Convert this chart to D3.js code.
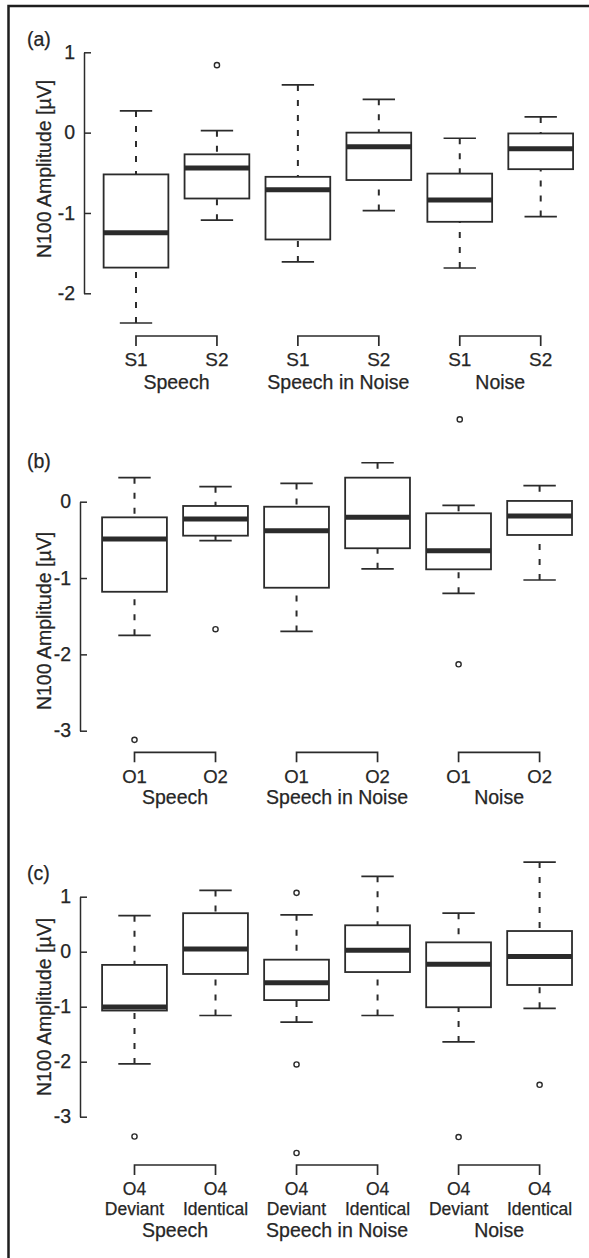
<!DOCTYPE html>
<html>
<head>
<meta charset="utf-8">
<script src="https://cdn.jsdelivr.net/npm/d3@7/dist/d3.min.js"></script>
<style>
  html, body { margin: 0; padding: 0; background: #fff; }
  svg { display: block; }
  text { font-family: "Liberation Sans", Arial, Helvetica, sans-serif; fill: #262626; stroke: #262626; stroke-width: 0.25px; }
</style>
</head>
<body>
<svg id="chart" width="589" height="1258"></svg>
<script>
// ---------------- data ----------------
const groups = ["Speech", "Speech in Noise", "Noise"];
const condA = [["S1"], ["S2"]];
const condB = [["O1"], ["O2"]];
const condC = [["O4", "Deviant"], ["O4", "Identical"]];
const yLabel = "N100 Amplitude [\u00b5V]";
const ticksA = [1, 0, -1, -2];
const ticksB = [0, -1, -2, -3];
const ticksC = [1, 0, -1, -2, -3];

// panel (a): S1/S2 per group
const aLow  = [-2.37, -1.09, -1.61, -0.97, -1.685, -1.045];
const aQ1   = [-1.68, -0.82, -1.33, -0.59, -1.11, -0.455];
const aMed  = [-1.245, -0.44, -0.71, -0.175, -0.84, -0.20];
const aQ3   = [-0.52, -0.27, -0.55, 0.0, -0.51, -0.01];
const aHigh = [0.27, 0.025, 0.594, 0.415, -0.07, 0.195];
const aOut  = [[], [0.84], [], [], [-3.57], []];

// panel (b): O1/O2 per group
const bLow  = [-1.75, -0.51, -1.70, -0.88, -1.20, -1.026];
const bQ1   = [-1.18, -0.445, -1.127, -0.61, -0.886, -0.436];
const bMed  = [-0.49, -0.227, -0.38, -0.205, -0.642, -0.187];
const bQ3   = [-0.205, -0.056, -0.066, 0.315, -0.152, 0.01];
const bHigh = [0.315, 0.197, 0.24, 0.51, -0.047, 0.21];
const bOut  = [[-3.12], [-1.67], [], [], [-2.13], []];

// panel (c): O4 Deviant / O4 Identical per group
const cLow  = [-2.04, -1.16, -1.28, -1.16, -1.64, -1.03];
const cQ1   = [-1.07, -0.405, -0.88, -0.37, -1.01, -0.605];
const cMed  = [-1.005, 0.05, -0.565, 0.025, -0.23, -0.085];
const cQ3   = [-0.24, 0.70, -0.145, 0.48, 0.17, 0.376];
const cHigh = [0.655, 1.115, 0.67, 1.37, 0.70, 1.63];
const cOut  = [[-3.36], [], [1.07, -2.05, -3.66], [], [-3.37], [-2.42]];

// ---------------- layout ----------------
const panels = [
  { tag: "(a)", low: aLow, q1: aQ1, med: aMed, q3: aQ3, high: aHigh, out: aOut, cond: condA, ticks: ticksA,
    axisX: 84, xr: [136, 540.7], yd: [-2, 1], yr: [293.3, 52.3], condSize: 19,
    tagY: 46, ylabY: 169, bracketY: 336, condY: [366], groupY: 388.5 },
  { tag: "(b)", low: bLow, q1: bQ1, med: bMed, q3: bQ3, high: bHigh, out: bOut, cond: condB, ticks: ticksB,
    axisX: 80, xr: [134.5, 539.6], yd: [-3, 0], yr: [730.7, 501.7], condSize: 18.5,
    tagY: 468, ylabY: 621, bracketY: 752.3, condY: [783], groupY: 804 },
  { tag: "(c)", low: cLow, q1: cQ1, med: cMed, q3: cQ3, high: cHigh, out: cOut, cond: condC, ticks: ticksC,
    axisX: 80, xr: [134.5, 539.6], yd: [-3, 1], yr: [1116.7, 896.7], condSize: 17.5,
    tagY: 880, ylabY: 1007, bracketY: 1165, condY: [1195, 1215], groupY: 1237 }
];

const ink = "#2b2b2b";
const svg = d3.select("#chart");

// outer frame (cropped at right/bottom)
svg.append("rect").attr("x", 8.5).attr("y", 6).attr("width", 640).attr("height", 1300)
  .attr("fill", "none").attr("stroke", "#1e1e1e").attr("stroke-width", 2.5);

panels.forEach(p => {
  const g = svg.append("g");
  const x = d3.scaleLinear().domain([0, 5]).range(p.xr);
  const y = d3.scaleLinear().domain(p.yd).range(p.yr);
  const step = x(1) - x(0);
  const bw = step * 0.8;
  const cw = bw * 0.5;

  // y axis (ticks pointing inward)
  const ax = g.append("g").attr("transform", `translate(${p.axisX},0)`)
    .call(d3.axisLeft(y).tickValues(p.ticks).tickSizeInner(-7).tickSizeOuter(0).tickPadding(9)
      .tickFormat(d3.format("d")));
  ax.select(".domain").attr("stroke", ink).attr("stroke-width", 1.5);
  ax.selectAll(".tick line").attr("stroke", ink).attr("stroke-width", 1.5);
  ax.selectAll(".tick text").attr("font-size", 19.5).attr("fill", "#262626")
    .attr("font-family", "Liberation Sans, Arial, sans-serif")
    .text(d => d < 0 ? "-" + Math.abs(d) : d);

  // y label
  g.append("text").attr("transform", `translate(51,${p.ylabY}) rotate(-90)`)
    .attr("text-anchor", "middle").attr("font-size", 19.5).text(yLabel);

  // panel tag
  g.append("text").attr("x", 27).attr("y", p.tagY).attr("font-size", 19.5).text(p.tag);

  const idx = d3.range(6);
  // whiskers (dashed), from whisker end to box edge
  g.selectAll(".wh").data(idx).join("line")
    .attr("x1", i => x(i)).attr("x2", i => x(i))
    .attr("y1", i => y(p.high[i])).attr("y2", i => y(p.q3[i]))
    .attr("stroke", ink).attr("stroke-width", 2).attr("stroke-dasharray", "6,9");
  g.selectAll(".wl").data(idx).join("line")
    .attr("x1", i => x(i)).attr("x2", i => x(i))
    .attr("y1", i => y(p.low[i])).attr("y2", i => y(p.q1[i]))
    .attr("stroke", ink).attr("stroke-width", 2).attr("stroke-dasharray", "6,9");
  // caps
  [p.high, p.low].forEach(arr => {
    g.selectAll(null).data(idx).join("line")
      .attr("x1", i => x(i) - cw / 2).attr("x2", i => x(i) + cw / 2)
      .attr("y1", i => y(arr[i])).attr("y2", i => y(arr[i]))
      .attr("stroke", ink).attr("stroke-width", 1.7);
  });
  // boxes
  g.selectAll(".box").data(idx).join("rect")
    .attr("x", i => x(i) - bw / 2).attr("width", bw)
    .attr("y", i => y(p.q3[i])).attr("height", i => y(p.q1[i]) - y(p.q3[i]))
    .attr("fill", "#fff").attr("stroke", ink).attr("stroke-width", 1.8);
  // medians
  g.selectAll(".med").data(idx).join("line")
    .attr("x1", i => x(i) - bw / 2).attr("x2", i => x(i) + bw / 2)
    .attr("y1", i => y(p.med[i])).attr("y2", i => y(p.med[i]))
    .attr("stroke", ink).attr("stroke-width", 5);
  // outliers
  const outs = idx.flatMap(i => p.out[i].map(v => ({ i, v })));
  g.selectAll(".out").data(outs).join("circle")
    .attr("cx", d => x(d.i)).attr("cy", d => y(d.v)).attr("r", 2.6)
    .attr("fill", "none").attr("stroke", ink).attr("stroke-width", 1.4);

  // group brackets and labels
  groups.forEach((gn, k) => {
    const xa = x(2 * k), xb = x(2 * k + 1);
    g.append("path")
      .attr("d", `M${xa},${p.bracketY + 10}V${p.bracketY}H${xb}V${p.bracketY + 10}`)
      .attr("fill", "none").attr("stroke", ink).attr("stroke-width", 1.7);
    [xa, xb].forEach((xx, j) => {
      p.cond[j].forEach((line, r) => {
        g.append("text").attr("x", xx).attr("y", p.condY[r]).attr("text-anchor", "middle")
          .attr("font-size", p.condSize).text(line);
      });
    });
    g.append("text").attr("x", (xa + xb) / 2).attr("y", p.groupY).attr("text-anchor", "middle")
      .attr("font-size", 19.5).text(gn);
  });
});
</script>
</body>
</html>
